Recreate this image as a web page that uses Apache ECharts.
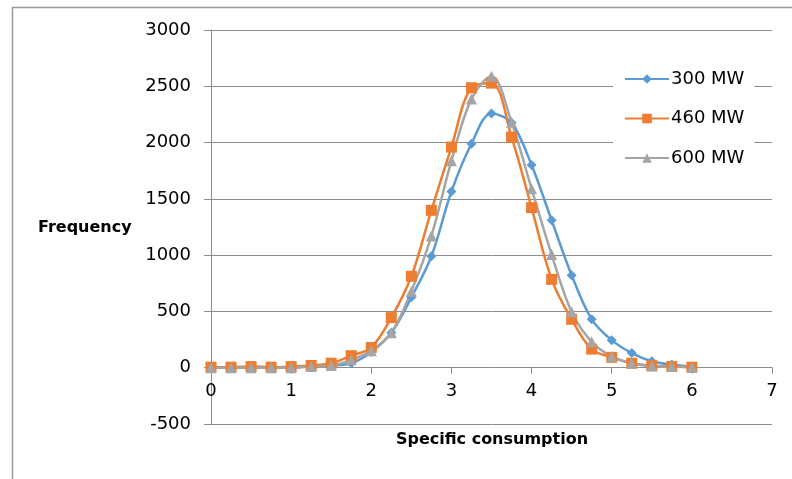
<!DOCTYPE html>
<html>
<head>
<meta charset="utf-8">
<script src="https://cdn.jsdelivr.net/npm/echarts@6/dist/echarts.min.js"></script>
<style>html,body{margin:0;padding:0;background:#fff}#c{width:792px;height:479px}</style>
</head>
<body>
<div id="c"></div>
<script>
const xValues = [0,0.25,0.5,0.75,1,1.25,1.5,1.75,2,2.25,2.5,2.75,3,3.25,3.5,3.75,4,4.25,4.5,4.75,5,5.25,5.5,5.75,6];
const mw300 = [0,0,0,0,0,15,20,40,140,310,625,990,1565,1990,2258,2175,1800,1310,822,430,245,130,58,28,8];
const mw460 = [5,5,10,5,10,20,40,107,180,445,812,1398,1960,2487,2528,2048,1422,785,430,165,92,40,18,10,5];
const mw600 = [0,0,0,0,0,10,20,70,150,310,680,1170,1838,2388,2590,2181,1590,1005,495,230,100,40,15,10,5];
const seriesNames = ['300 MW','460 MW','600 MW'];
const yTicks = {min:-500, max:3000, interval:500};
const xTicks = {min:0, max:7, interval:1};

const font = 'DejaVu Sans';
const gridTop = 30, gridBottom = 55, H = 479;
const plotH = H - gridTop - gridBottom;
const zeroOffset = plotH * (0 - yTicks.min) / (yTicks.max - yTicks.min);
function pairs(arr){ return xValues.map((x,i)=>[x,arr[i]]); }
const chart = echarts.init(document.getElementById('c'));
const mk = (name, data, color, symbol, size) => ({
  name, type:'line', data: pairs(data), smooth:0.35,
  symbol, symbolSize:size, showSymbol:true,
  lineStyle:{color, width:2.5}, itemStyle:{color},
  emphasis:{disabled:true}
});
chart.setOption({
  animation:false,
  backgroundColor:'#fff',
  grid:{left:211, right:20, top:gridTop, bottom:gridBottom, containLabel:false},
  xAxis:{type:'value', min:xTicks.min, max:xTicks.max, interval:xTicks.interval,
    position:'bottom', offset:-zeroOffset,
    axisLine:{onZero:false, lineStyle:{color:'#8c8c8c', width:1}},
    axisTick:{show:true, length:6, inside:false, lineStyle:{color:'#8c8c8c'}},
    axisLabel:{fontFamily:font, fontSize:18, color:'#000', margin:15},
    splitLine:{show:false}},
  yAxis:{type:'value', min:yTicks.min, max:yTicks.max, interval:yTicks.interval,
    axisLine:{show:true, onZero:false, lineStyle:{color:'#8c8c8c', width:1}},
    axisTick:{show:true, length:7, lineStyle:{color:'#8c8c8c'}},
    axisLabel:{fontFamily:font, fontSize:18, color:'#000', margin:20, formatter:(v)=>String(v)},
    splitLine:{show:true, lineStyle:{color:'#8c8c8c', width:1}}},
  legend:{orient:'vertical', left:613, top:64, itemWidth:44, itemHeight:12, itemGap:21.5,
    backgroundColor:'#fff', padding:[6,10,6,11],
    textStyle:{fontFamily:font, fontSize:18, color:'#000', padding:[0,0,0,-3]},
    data:seriesNames},
  graphic:[
    {type:'rect', left:10, top:5, z:-10, shape:{width:800, height:500}, style:{fill:'none', stroke:'#999', lineWidth:1.5}},
    {type:'text', x:38, y:228, style:{text:'Frequency', font:'bold 16px "DejaVu Sans"', fill:'#000', textVerticalAlign:'middle'}},
    {type:'text', x:492, y:440, style:{text:'Specific consumption', font:'bold 16px "DejaVu Sans"', fill:'#000', textAlign:'center', textVerticalAlign:'middle'}}
  ],
  series:[
    mk(seriesNames[0], mw300, '#5B9BD5', 'diamond', 10),
    mk(seriesNames[1], mw460, '#ED7D31', 'rect', 11),
    mk(seriesNames[2], mw600, '#A5A5A5', 'triangle', 11)
  ]
});
</script>
</body>
</html>
